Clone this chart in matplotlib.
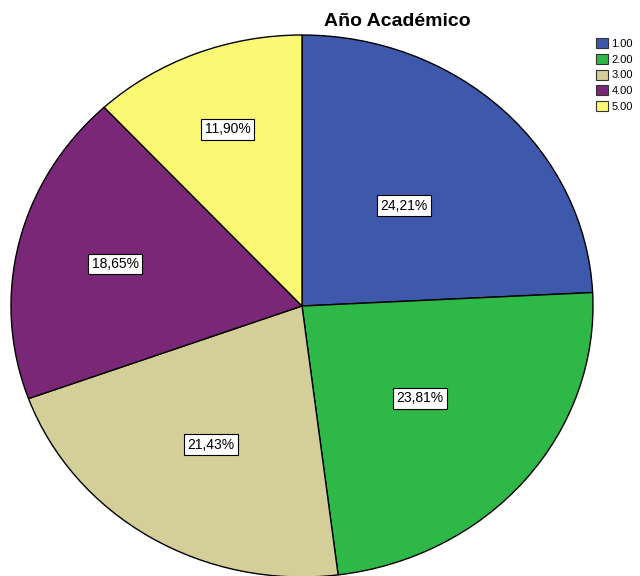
import matplotlib
matplotlib.use('Agg')
import numpy as np
import matplotlib.pyplot as plt
from matplotlib.patches import Patch

plt.rcParams['font.family'] = ['Liberation Sans', 'DejaVu Sans']

categories = ['1.00', '2.00', '3.00', '4.00', '5.00']
percents = [24.21, 23.81, 21.43, 18.65, 11.90]
colors = ['#3E58AC', '#2EB848', '#D4CE99', '#7B2778', '#FBF873']
# radial position of each label (fraction of radius), as placed in the reference
label_dist = [0.51, 0.53, 0.60, 0.66, 0.70]

fig = plt.figure(figsize=(6.4, 5.76), dpi=100)
# pie is slightly wider than tall in the reference
ax = fig.add_axes([11/640, -1/576, 582/640, 542/576])

wedges, _ = ax.pie(percents, colors=colors, startangle=90, counterclock=False,
                   wedgeprops=dict(edgecolor='black', linewidth=1.0))
for w, p, d in zip(wedges, percents, label_dist):
    ang = np.deg2rad((w.theta1 + w.theta2) / 2)
    ax.text(d * np.cos(ang), d * np.sin(ang), ('%.2f%%' % p).replace('.', ','),
            fontsize=10, ha='center', va='center',
            bbox=dict(facecolor='white', edgecolor='black', linewidth=0.8, pad=2.5))
ax.set_aspect('auto')
ax.set_xlim(-1, 1)
ax.set_ylim(-1, 1)
ax.axis('off')

fig.text(397/640, 1 - 21/576, 'Año Académico', fontsize=14, fontweight='bold',
         ha='center', va='center')

handles = [Patch(facecolor=c, edgecolor='#333333', linewidth=0.8) for c in colors]
fig.legend(handles, categories, loc='upper left', bbox_to_anchor=(596/640, 1 - 38/576),
           frameon=False, fontsize=8, handlelength=1.1, handleheight=1.0,
           handletextpad=0.3, labelspacing=0.45, borderaxespad=0, borderpad=0)

fig.savefig('out.png', dpi=100)
